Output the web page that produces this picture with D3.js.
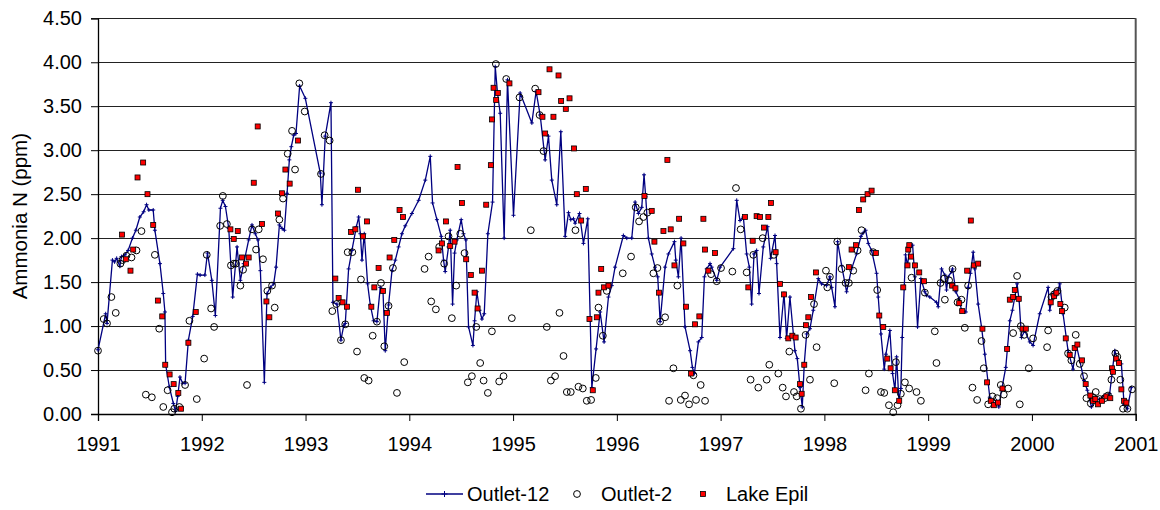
<!DOCTYPE html>
<html><head><meta charset="utf-8">
<script src="https://cdn.jsdelivr.net/npm/d3@7"></script>
<style>
html,body{margin:0;padding:0;background:#fff;}
svg{display:block;font-family:"Liberation Sans",Arial,sans-serif;}
</style></head>
<body><svg id="c" width="1160" height="510"></svg>
<script>
const seriesNames = ["Outlet-12", "Outlet-2", "Lake Epil"];
const yTicks = [0, 0.5, 1, 1.5, 2, 2.5, 3, 3.5, 4, 4.5];
const xTicks = [1991,1992,1993,1994,1995,1996,1997,1998,1999,2000,2001];
const yTitle = "Ammonia N (ppm)";

// [decimal year, ppm]
const outlet12 = [
[1991.000,0.73],[1991.074,1.14],[1991.087,1.03],[1991.139,1.75],[1991.160,1.73],[1991.180,1.77],[1991.210,1.68],[1991.226,1.79],[1991.260,1.81],[1991.290,1.86],
[1991.332,2.00],[1991.365,2.09],[1991.403,2.24],[1991.440,2.30],[1991.468,2.38],[1991.490,2.32],[1991.532,2.32],[1991.548,2.09],[1991.597,1.71],[1991.629,1.37],
[1991.645,1.16],[1991.652,0.56],[1991.687,0.31],[1991.726,0.12],[1991.748,0.03],[1991.768,0.20],[1991.790,0.42],[1991.816,0.35],[1991.839,0.35],[1991.871,0.84],
[1991.913,1.11],[1991.958,1.59],[1991.984,1.58],[1992.030,1.58],[1992.055,1.83],[1992.097,1.52],[1992.131,1.12],[1992.180,2.34],[1992.202,2.43],[1992.228,2.36],
[1992.260,2.11],[1992.298,1.33],[1992.340,1.90],[1992.372,1.52],[1992.404,1.71],[1992.452,1.98],[1992.484,2.15],[1992.516,2.05],[1992.542,1.98],[1992.565,1.63],
[1992.603,0.36],[1992.629,1.37],[1992.661,1.44],[1992.693,1.48],[1992.716,1.67],[1992.748,2.15],[1992.774,2.11],[1992.796,2.09],[1992.822,2.51],[1992.844,2.89],
[1992.863,3.04],[1992.886,3.17],[1992.908,3.19],[1992.943,3.73],[1992.998,3.59],[1993.142,2.74],[1993.158,2.38],[1993.190,3.16],[1993.245,3.54],[1993.264,1.27],
[1993.303,1.25],[1993.341,0.84],[1993.367,1.00],[1993.383,1.03],[1993.415,1.65],[1993.447,1.86],[1993.490,2.13],[1993.512,2.24],[1993.528,2.05],[1993.544,1.75],
[1993.566,2.05],[1993.598,1.48],[1993.624,1.24],[1993.656,1.06],[1993.688,1.05],[1993.720,1.44],[1993.746,1.41],[1993.768,0.72],[1993.800,1.24],[1993.833,1.63],
[1993.865,1.75],[1993.897,1.90],[1993.929,2.05],[1993.961,2.14],[1994.025,2.28],[1994.090,2.43],[1994.154,2.66],[1994.202,2.93],[1994.224,2.40],[1994.266,2.21],
[1994.308,2.02],[1994.330,1.75],[1994.346,1.62],[1994.378,1.90],[1994.394,2.09],[1994.417,1.25],[1994.436,1.83],[1994.458,1.98],[1994.500,2.21],[1994.522,2.05],
[1994.545,1.98],[1994.571,0.99],[1994.613,0.78],[1994.629,1.06],[1994.651,1.39],[1994.677,1.18],[1994.700,1.08],[1994.722,1.14],[1994.757,2.05],[1994.802,2.41],
[1994.828,3.95],[1994.850,3.65],[1994.876,3.42],[1994.914,2.00],[1994.946,3.80],[1995.004,2.26],[1995.068,3.65],[1995.181,3.31],[1995.222,3.67],[1995.261,3.40],
[1995.309,2.89],[1995.341,3.16],[1995.373,2.66],[1995.421,2.38],[1995.460,3.21],[1995.502,2.02],[1995.534,2.29],[1995.556,2.21],[1995.582,2.22],[1995.598,2.17],
[1995.640,2.28],[1995.678,1.94],[1995.720,2.22],[1995.759,0.30],[1995.800,0.74],[1995.839,1.16],[1995.877,0.82],[1995.919,1.33],[1995.951,1.46],[1995.983,1.67],
[1996.063,2.03],[1996.096,2.00],[1996.144,2.00],[1996.176,2.41],[1996.208,2.28],[1996.240,2.35],[1996.262,2.72],[1996.278,2.47],[1996.304,2.00],[1996.336,1.82],
[1996.368,1.67],[1996.394,1.56],[1996.417,1.05],[1996.465,1.67],[1996.497,1.82],[1996.555,1.96],[1996.568,1.75],[1996.593,1.56],[1996.619,2.00],[1996.657,0.99],
[1996.706,0.72],[1996.728,0.53],[1996.747,0.46],[1996.786,0.82],[1996.818,0.87],[1996.844,1.56],[1996.866,1.65],[1996.898,1.71],[1996.914,1.67],[1996.963,1.52],
[1996.995,1.67],[1997.123,1.88],[1997.155,2.43],[1997.187,2.20],[1997.219,2.24],[1997.251,1.82],[1997.277,1.67],[1997.299,1.25],[1997.322,1.82],[1997.347,1.86],
[1997.370,1.37],[1997.411,1.90],[1997.453,2.13],[1997.482,1.77],[1997.524,2.03],[1997.540,1.71],[1997.572,0.87],[1997.611,1.37],[1997.636,0.86],[1997.668,1.33],
[1997.716,0.72],[1997.739,0.63],[1997.765,0.30],[1997.787,0.08],[1997.806,0.57],[1997.829,0.91],[1997.861,0.97],[1997.893,1.18],[1997.941,1.54],[1997.973,1.48],
[1998.021,1.46],[1998.053,1.56],[1998.070,1.44],[1998.102,1.22],[1998.127,1.96],[1998.166,1.69],[1998.214,1.39],[1998.262,1.65],[1998.310,1.82],[1998.352,2.02],
[1998.374,2.06],[1998.397,2.09],[1998.423,1.94],[1998.455,1.86],[1998.503,1.60],[1998.519,1.33],[1998.545,0.91],[1998.577,0.51],[1998.593,0.68],[1998.631,0.95],
[1998.657,0.46],[1998.680,0.27],[1998.696,0.65],[1998.718,0.15],[1998.737,0.29],[1998.750,0.87],[1998.782,1.81],[1998.801,1.69],[1998.824,1.90],[1998.850,1.92],
[1998.872,1.56],[1998.898,0.99],[1998.930,1.54],[1998.968,1.39],[1998.984,1.35],[1999.016,1.33],[1999.080,1.27],[1999.097,1.22],[1999.129,1.65],[1999.161,1.58],
[1999.177,1.41],[1999.193,1.56],[1999.225,1.62],[1999.235,1.65],[1999.267,1.39],[1999.299,1.31],[1999.321,1.18],[1999.363,1.16],[1999.385,1.44],[1999.408,1.60],
[1999.434,1.84],[1999.450,1.65],[1999.482,1.25],[1999.514,0.99],[1999.546,0.68],[1999.594,0.19],[1999.633,0.11],[1999.658,0.15],[1999.681,0.08],[1999.707,0.27],
[1999.748,0.53],[1999.787,1.06],[1999.812,1.18],[1999.835,1.33],[1999.857,1.48],[1999.877,1.29],[1999.899,0.87],[1999.931,0.95],[1999.979,0.82],[2000.011,0.78],
[2000.075,1.14],[2000.156,1.44],[2000.172,1.18],[2000.204,1.37],[2000.252,1.41],[2000.268,1.48],[2000.300,1.14],[2000.348,0.72],[2000.396,0.51],[2000.429,0.78],
[2000.461,0.61],[2000.502,0.38],[2000.534,0.27],[2000.573,0.08],[2000.605,0.15],[2000.653,0.17],[2000.701,0.21],[2000.749,0.23],[2000.772,0.46],[2000.798,0.72],
[2000.830,0.61],[2000.862,0.57],[2000.888,0.11],[2000.920,0.06],[2000.958,0.30]
];

const outlet2 = [
[1991.000,0.72],[1991.055,1.08],[1991.087,1.03],[1991.129,1.33],[1991.171,1.15],[1991.216,1.71],[1991.235,1.75],[1991.274,1.80],[1991.323,1.78],[1991.371,1.86],
[1991.419,2.08],[1991.461,0.22],[1991.519,0.19],[1991.548,1.81],[1991.590,0.97],[1991.629,0.08],[1991.671,0.27],[1991.713,0.02],[1991.735,0.06],[1991.784,0.08],
[1991.839,0.33],[1991.881,1.06],[1991.952,0.17],[1992.023,0.63],[1992.048,1.81],[1992.090,1.20],[1992.119,0.99],[1992.177,2.14],[1992.203,2.48],[1992.242,2.16],
[1992.281,1.69],[1992.310,1.71],[1992.330,1.71],[1992.372,1.46],[1992.398,1.64],[1992.436,0.33],[1992.484,2.10],[1992.523,1.87],[1992.549,2.10],[1992.590,1.76],
[1992.632,1.40],[1992.677,1.46],[1992.703,1.21],[1992.748,2.21],[1992.783,2.45],[1992.828,2.96],[1992.870,3.22],[1992.899,2.78],[1992.940,3.76],[1992.992,3.44],
[1993.149,2.73],[1993.184,3.17],[1993.232,3.11],[1993.258,1.17],[1993.297,1.25],[1993.341,0.84],[1993.383,1.02],[1993.406,1.84],[1993.451,1.84],[1993.496,0.71],
[1993.534,1.53],[1993.566,0.41],[1993.608,0.38],[1993.647,0.89],[1993.688,1.05],[1993.727,1.49],[1993.759,0.77],[1993.800,1.23],[1993.842,1.66],[1993.881,0.24],
[1993.951,0.59],[1994.147,1.65],[1994.186,1.79],[1994.211,1.28],[1994.256,1.19],[1994.288,1.90],[1994.336,1.71],[1994.378,2.02],[1994.410,1.09],[1994.452,1.46],
[1994.491,2.05],[1994.532,1.83],[1994.564,0.36],[1994.603,0.43],[1994.645,0.99],[1994.683,0.58],[1994.716,0.38],[1994.757,0.24],[1994.796,0.94],[1994.834,3.98],
[1994.866,0.37],[1994.908,0.43],[1994.934,3.81],[1994.988,1.09],[1995.062,3.60],[1995.171,2.09],[1995.213,3.70],[1995.255,3.40],[1995.293,2.99],[1995.325,0.99],
[1995.364,0.38],[1995.405,0.43],[1995.447,1.15],[1995.486,0.66],[1995.518,0.25],[1995.556,0.25],[1995.601,2.09],[1995.630,0.31],[1995.672,0.29],[1995.710,0.15],
[1995.752,0.16],[1995.797,0.41],[1995.823,1.21],[1995.865,0.89],[1995.903,1.40],[1996.057,1.60],[1996.137,1.79],[1996.182,2.35],[1996.214,2.19],[1996.256,2.24],
[1996.294,2.29],[1996.352,1.60],[1996.391,1.66],[1996.417,1.05],[1996.465,1.10],[1996.503,0.15],[1996.545,0.52],[1996.583,1.46],[1996.616,0.16],[1996.657,0.21],
[1996.696,0.11],[1996.738,0.44],[1996.763,0.16],[1996.808,0.33],[1996.850,0.15],[1996.908,1.59],[1996.962,1.51],[1997.004,1.66],[1997.113,1.62],[1997.148,2.57],
[1997.193,2.10],[1997.251,1.61],[1997.289,0.39],[1997.315,1.81],[1997.363,0.30],[1997.405,2.00],[1997.444,0.39],[1997.469,0.56],[1997.514,1.81],[1997.556,0.46],
[1997.598,0.30],[1997.630,0.20],[1997.662,0.71],[1997.707,0.25],[1997.733,0.20],[1997.774,0.06],[1997.819,0.90],[1997.861,0.39],[1997.900,1.25],[1997.925,0.76],
[1998.015,1.63],[1998.028,1.44],[1998.053,1.56],[1998.095,0.35],[1998.124,1.96],[1998.166,1.65],[1998.204,1.49],[1998.236,1.49],[1998.278,1.63],[1998.320,1.86],
[1998.358,2.09],[1998.397,0.27],[1998.429,0.46],[1998.471,1.84],[1998.509,1.41],[1998.545,0.25],[1998.577,0.24],[1998.622,0.10],[1998.663,0.02],[1998.689,0.59],
[1998.705,0.10],[1998.737,0.23],[1998.776,0.36],[1998.817,0.29],[1998.840,1.55],[1998.888,0.25],[1998.930,0.15],[1998.968,1.38],[1999.064,0.94],[1999.080,0.58],
[1999.119,1.49],[1999.154,1.54],[1999.161,1.30],[1999.202,1.52],[1999.235,1.65],[1999.283,1.27],[1999.321,1.30],[1999.353,0.98],[1999.385,1.46],[1999.427,0.30],
[1999.472,0.16],[1999.514,0.83],[1999.536,0.52],[1999.578,0.11],[1999.620,0.20],[1999.665,0.18],[1999.700,0.33],[1999.729,0.22],[1999.771,0.29],[1999.819,0.92],
[1999.857,1.57],[1999.883,0.11],[1999.893,1.00],[1999.925,0.90],[1999.970,0.52],[2000.011,0.86],[2000.146,0.76],[2000.156,0.95],[2000.188,1.33],[2000.213,1.36],
[2000.246,1.40],[2000.316,1.21],[2000.348,0.69],[2000.380,0.61],[2000.422,0.90],[2000.461,0.57],[2000.502,0.43],[2000.525,0.18],[2000.567,0.12],[2000.589,0.19],
[2000.615,0.25],[2000.653,0.17],[2000.701,0.18],[2000.733,0.21],[2000.766,0.39],[2000.804,0.69],[2000.823,0.65],[2000.852,0.39],[2000.878,0.06],[2000.920,0.06],
[2000.965,0.28]
];

const lakeEpil = [
[1991.232,2.04],[1991.268,1.76],[1991.313,1.63],[1991.339,1.87],[1991.381,2.69],[1991.435,2.86],[1991.477,2.50],[1991.532,2.15],[1991.577,1.29],[1991.619,1.11],
[1991.648,0.56],[1991.690,0.45],[1991.729,0.34],[1991.774,0.24],[1991.800,0.06],[1991.871,0.81],[1991.942,1.16],[1992.276,2.10],[1992.308,1.99],[1992.347,2.08],
[1992.388,1.78],[1992.427,1.71],[1992.452,1.78],[1992.501,2.63],[1992.539,3.27],[1992.581,2.16],[1992.623,1.28],[1992.651,1.10],[1992.735,2.28],[1992.773,2.51],
[1992.806,2.78],[1992.847,2.62],[1992.928,3.11],[1993.287,1.54],[1993.319,1.32],[1993.357,1.27],[1993.399,1.22],[1993.438,2.07],[1993.480,2.10],[1993.505,2.55],
[1993.553,2.02],[1993.592,2.19],[1993.634,1.22],[1993.663,1.44],[1993.704,1.66],[1993.746,1.40],[1993.784,1.15],[1993.810,1.78],[1993.855,1.98],[1993.906,2.32],
[1993.939,2.24],[1994.282,1.86],[1994.314,1.94],[1994.353,2.19],[1994.394,1.91],[1994.436,1.96],[1994.465,2.81],[1994.507,2.40],[1994.548,1.76],[1994.593,1.58],
[1994.629,1.38],[1994.658,1.20],[1994.700,1.63],[1994.741,2.38],[1994.786,2.83],[1994.796,3.35],[1994.812,3.71],[1994.837,3.57],[1994.853,3.65],[1994.965,3.76],
[1995.245,3.66],[1995.283,3.38],[1995.309,3.19],[1995.351,3.92],[1995.389,3.38],[1995.438,3.85],[1995.463,3.56],[1995.508,3.47],[1995.544,3.59],[1995.588,3.02],
[1995.614,2.50],[1995.656,2.20],[1995.701,2.56],[1995.736,1.08],[1995.768,0.27],[1995.807,1.10],[1995.823,1.38],[1995.849,1.65],[1995.877,1.44],[1995.919,1.46],
[1996.266,2.48],[1996.336,2.31],[1996.362,1.96],[1996.407,1.38],[1996.449,2.08],[1996.487,2.89],[1996.519,2.10],[1996.555,1.69],[1996.600,2.22],[1996.641,1.94],
[1996.667,1.22],[1996.715,0.46],[1996.754,1.02],[1996.795,1.11],[1996.834,2.22],[1996.850,1.87],[1996.882,1.63],[1996.946,1.83],[1997.235,2.24],[1997.267,1.44],
[1997.309,1.97],[1997.347,2.25],[1997.379,2.24],[1997.418,2.12],[1997.460,2.24],[1997.485,2.40],[1997.530,1.84],[1997.572,1.48],[1997.611,1.36],[1997.652,0.86],
[1997.691,0.89],[1997.723,0.87],[1997.765,0.34],[1997.781,0.23],[1997.806,0.56],[1997.822,1.01],[1997.845,1.10],[1997.871,1.33],[1997.919,1.61],[1998.236,1.67],
[1998.262,1.87],[1998.304,1.92],[1998.333,2.32],[1998.374,2.44],[1998.416,2.50],[1998.455,2.54],[1998.496,1.83],[1998.529,1.12],[1998.567,0.99],[1998.606,0.63],
[1998.638,0.52],[1998.679,0.27],[1998.721,0.15],[1998.760,1.44],[1998.801,1.69],[1998.808,1.87],[1998.818,1.92],[1998.834,1.79],[1998.872,1.69],[1998.914,1.61],
[1998.959,1.51],[1999.231,1.46],[1999.263,1.43],[1999.299,1.26],[1999.328,1.17],[1999.376,1.63],[1999.411,2.20],[1999.440,1.69],[1999.482,1.71],[1999.523,0.97],
[1999.568,0.36],[1999.604,0.15],[1999.633,0.10],[1999.674,0.13],[1999.716,0.29],[1999.761,0.74],[1999.787,1.30],[1999.819,1.33],[1999.835,1.41],[1999.873,1.31],
[1999.909,0.97],[1999.941,0.97],[2000.181,1.27],[2000.213,1.34],[2000.236,1.38],[2000.274,1.25],[2000.290,1.17],[2000.326,0.86],[2000.364,0.67],[2000.412,0.75],
[2000.438,0.79],[2000.483,0.61],[2000.518,0.34],[2000.563,0.21],[2000.589,0.15],[2000.611,0.17],[2000.637,0.11],[2000.675,0.15],[2000.717,0.20],[2000.755,0.18],
[2000.771,0.52],[2000.781,0.48],[2000.813,0.63],[2000.839,0.58],[2000.862,0.28],[2000.888,0.15],[2000.910,0.13]
];

const svg = d3.select("#c");
const X0 = 98, X1 = 1135.7, Y0 = 414, Y1 = 18.3;
const x = d3.scaleLinear().domain([1991, 2001]).range([X0, X1]);
const y = d3.scaleLinear().domain([0, 4.5]).range([Y0, Y1]);
const FONT = 20;

// gridlines
svg.append("g").selectAll("line").data(yTicks.filter(d => d > 0)).join("line")
  .attr("x1", X0).attr("x2", X1).attr("y1", d => y(d)).attr("y2", d => y(d))
  .attr("stroke", "#222").attr("stroke-width", 1).attr("shape-rendering", "crispEdges");

// right border
svg.append("line").attr("x1", X1).attr("x2", X1).attr("y1", Y1).attr("y2", Y0)
  .attr("stroke", "#555").attr("stroke-width", 2);

// y axis
const yAxis = svg.append("g").attr("transform", `translate(${X0},0)`)
  .call(d3.axisLeft(y).tickValues(yTicks).tickFormat(d3.format(".2f")).tickSize(7).tickPadding(9));
yAxis.select(".domain").attr("stroke", "#000").attr("stroke-width", 1.3);
yAxis.selectAll(".tick line").attr("stroke", "#000");
yAxis.selectAll("text").attr("font-size", FONT).attr("fill", "#000").attr("font-family", "Liberation Sans, Arial, sans-serif");

// x axis
const xAxis = svg.append("g").attr("transform", `translate(0,${Y0})`)
  .call(d3.axisBottom(x).tickValues(xTicks).tickFormat(d3.format("d")).tickSize(7).tickPadding(16));
xAxis.select(".domain").attr("stroke", "#000").attr("stroke-width", 1.3);
xAxis.selectAll(".tick line").attr("stroke", "#000");
xAxis.selectAll("text").attr("font-size", FONT).attr("fill", "#000").attr("font-family", "Liberation Sans, Arial, sans-serif");

// y title
svg.append("text").attr("transform", `translate(27,${(Y0 + Y1) / 2}) rotate(-90)`)
  .attr("text-anchor", "middle").attr("font-size", FONT + 0.5).text(yTitle);

const plot = svg.append("g");
const NAVY = "#000080";
// Outlet-12 line
plot.append("path").datum(outlet12)
  .attr("d", d3.line().x(d => x(d[0])).y(d => y(d[1])))
  .attr("fill", "none").attr("stroke", NAVY).attr("stroke-width", 1.3).attr("stroke-linejoin", "round");
const plus = (cx, cy, s) => `M${cx - s},${cy}H${cx + s}M${cx},${cy - s}V${cy + s}`;
plot.append("path")
  .attr("d", outlet12.map(d => plus(x(d[0]), y(d[1]), 2)).join(""))
  .attr("stroke", NAVY).attr("stroke-width", 1).attr("fill", "none");

// Outlet-2 circles
plot.append("g").selectAll("circle").data(outlet2).join("circle")
  .attr("cx", d => x(d[0])).attr("cy", d => y(d[1])).attr("r", 3.4)
  .attr("fill", "none").attr("stroke", "#000").attr("stroke-width", 1);

// Lake Epil squares
plot.append("g").selectAll("rect").data(lakeEpil).join("rect")
  .attr("x", d => x(d[0]) - 2.5).attr("y", d => y(d[1]) - 2.5).attr("width", 5).attr("height", 5)
  .attr("fill", "#ff0000").attr("stroke", "#000").attr("stroke-width", 0.8);

// legend
const LY = 494;
const lg = svg.append("g").attr("font-size", FONT);
lg.append("line").attr("x1", 426).attr("x2", 463).attr("y1", LY).attr("y2", LY).attr("stroke", NAVY).attr("stroke-width", 1.3);
lg.append("path").attr("d", plus(444.5, LY, 3)).attr("stroke", NAVY).attr("stroke-width", 1);
lg.append("text").attr("x", 467).attr("y", LY + 7).text(seriesNames[0]);
lg.append("circle").attr("cx", 577).attr("cy", LY).attr("r", 3.4).attr("fill", "none").attr("stroke", "#000");
lg.append("text").attr("x", 601).attr("y", LY + 7).text(seriesNames[1]);
lg.append("rect").attr("x", 700.5).attr("y", LY - 2.5).attr("width", 5).attr("height", 5).attr("fill", "#ff0000").attr("stroke", "#000").attr("stroke-width", 0.8);
lg.append("text").attr("x", 726).attr("y", LY + 7).text(seriesNames[2]);
</script></body></html>
